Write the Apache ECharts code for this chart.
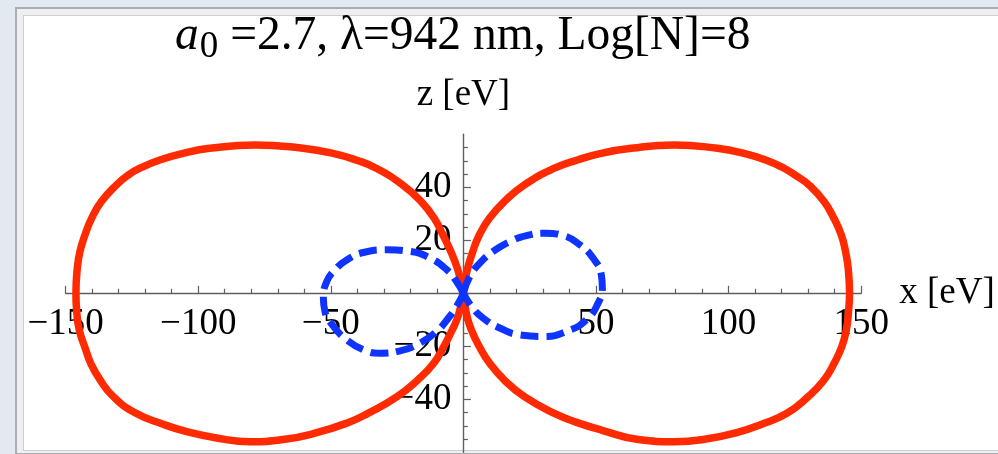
<!DOCTYPE html>
<html>
<head>
<meta charset="utf-8">
<script src="https://cdn.jsdelivr.net/npm/echarts@6/dist/echarts.min.js"></script>
<style>
  html, body { margin: 0; padding: 0; }
  body { width: 998px; height: 454px; overflow: hidden; position: relative;
         background: #e3e9f1; }
  #frame { position: absolute; left: 15px; top: 7px; width: 1000px; height: 444px;
           border: 2px solid #a9aeb4; background: #efefef; }
  #panel { position: absolute; left: 23px; top: 15px; width: 1000px; height: 434px;
           border: 1px solid #cfcfcf; background: #ffffff; }
  #chart { position: absolute; left: 0; top: 0; width: 998px; height: 454px; }
</style>
</head>
<body>
<div id="frame"></div>
<div id="panel"></div>
<div id="chart"></div>
<script>
// Emission pattern in the x–z plane (energies in eV).
// Solid red: outer figure-eight; dashed blue: inner tilted figure-eight.
const redUpperLeft = [
  [0, 0], [-1, 4.5], [-2.3, 9.5], [-4.7, 15.7], [-7.7, 22], [-11, 28.3],
  [-15.9, 34.6], [-22.9, 40.9], [-32.9, 47.2], [-40.2, 50.2], [-49.2, 52.8],
  [-60.5, 54.7], [-78.5, 56], [-95.7, 54.7], [-105.7, 52.8], [-114.5, 50.3],
  [-122, 47.2], [-126.4, 44.6], [-130.8, 40.9], [-136.5, 34.6], [-140.2, 28.3],
  [-142.7, 22], [-144.6, 15.7], [-145.6, 9.4], [-146.1, 0]
];
const redLowerLeft = [
  [-145.8, -7], [-144.8, -14], [-142.5, -21], [-140.5, -26.5], [-137, -32.7],
  [-132, -39], [-124, -45], [-113, -49.5], [-104, -52.3], [-92, -54.8],
  [-80.5, -56], [-68, -55.2], [-56, -52.8], [-44, -49], [-36, -45.3],
  [-25, -39], [-17.2, -32.7], [-11.2, -26.4], [-7.4, -20.1], [-4.2, -13.8],
  [-1.8, -8], [0, 0]
];
const redUpperRight = [
  [0, 0], [0.6, 4.4], [1.6, 9.4], [3.5, 15.7], [6, 22], [9.8, 28.3],
  [15.4, 34.6], [23, 40.9], [34.3, 47.2], [43, 50.3], [51.9, 52.8],
  [63.2, 54.7], [79.5, 56], [95.8, 54.7], [105.8, 52.8], [114, 50.3],
  [120.9, 47.2], [126, 44], [130.3, 40.9], [136, 34.6], [139.7, 28.3],
  [142.5, 22], [144.1, 15.7], [145.1, 9.4], [145.6, 0]
];
const redLowerRight = [
  [145.2, -7], [144.4, -13.8], [142.7, -20.1], [139.8, -26.4], [136, -32.7],
  [130, -39], [122, -45.3], [112, -49.6], [104, -52.3], [92, -54.9],
  [79.5, -56], [66, -55.2], [52, -51.6], [43, -48.8], [34.3, -45.3],
  [23, -39], [15.4, -32.7], [9.9, -26.4], [6, -20.1], [3, -13.8],
  [1.2, -8], [0, 0]
];
const blueLeft = [
  [0, 0], [-2.6, 4.5], [-6.3, 8.9], [-12.6, 13.3], [-20.2, 15.8], [-28.9, 16.4],
  [-37.7, 15.4], [-44, 12.6], [-48.4, 8.9], [-51.5, 4.5], [-52.8, -1.8],
  [-52.2, -6.9], [-49, -12.5], [-44, -17.5], [-37.7, -21.3], [-31.4, -22.6],
  [-23.9, -21.7], [-16.4, -18.8], [-10.1, -14.4], [-5.7, -9.4], [-2.6, -5], [0, 0]
];
const blueRight = [
  [0, 0], [2.4, 6.3], [6.2, 11.4], [11.2, 15.8], [17.5, 19.5], [23.8, 21.8],
  [30.7, 22.7], [37.6, 21.8], [43.9, 18.3], [48.9, 13.3], [52, 7], [52.4, 2],
  [50.8, -3.7], [46.4, -10], [38.9, -14.4], [30.1, -16.3], [21.3, -15.7],
  [13.7, -13.1], [7.5, -9.4], [3.1, -5], [0, 0]
];

const xRange = [-150, 150];
const zRange = [-60, 60];
const zMajorTicks = [-40, -20, 0, 20, 40];
const zTickLabels = [-40, -20, 20, 40];

const FONT = '"Liberation Serif", "Times New Roman", serif';
const RED = '#ff2a00';
const BLUE = '#1034ff';
const AXIS = '#5f5f5f';

// plot box; both ranges are symmetric, so the axes cross at its centre
const GRID = { left: 65.6, top: 134.3, width: 795.6, height: 318 };

function signed(v) {
  if (v === 0) return '';
  return v < 0 ? '\u2212' + Math.abs(v) : String(v);
}

const chart = echarts.init(document.getElementById('chart'), null, { renderer: 'canvas' });

chart.setOption({
  animation: false,
  backgroundColor: 'transparent',
  title: {
    text: '{i|a}{s|0}{n| =2.7, \u03bb=942 nm, Log[N]=8}',
    left: 175,
    top: 7,
    padding: 0,
    textStyle: {
      fontFamily: FONT, fontSize: 47.5, color: '#000', fontWeight: 'normal', lineHeight: 60,
      rich: {
        i: { fontFamily: FONT, fontSize: 47.5, fontStyle: 'italic', color: '#000', lineHeight: 60 },
        s: { fontFamily: FONT, fontSize: 37, color: '#000', lineHeight: 37, padding: [20, 0, 0, 1] },
        n: { fontFamily: FONT, fontSize: 47.5, color: '#000', lineHeight: 60 }
      }
    }
  },
  grid: Object.assign({ containLabel: false, outerBoundsMode: 'none' }, GRID),
  xAxis: {
    type: 'value',
    min: xRange[0], max: xRange[1], interval: 50,
    position: 'bottom',
    offset: -GRID.height / 2,
    name: 'x [eV]', nameLocation: 'end', nameGap: 38,
    nameTextStyle: { fontFamily: FONT, fontSize: 37, color: '#000', padding: [8, 0, 0, 0] },
    axisLine: { show: true, onZero: false, lineStyle: { color: AXIS, width: 1.4 } },
    axisTick: { show: true, inside: true, length: 7.5, lineStyle: { color: AXIS, width: 1.2 } },
    minorTick: { show: true, splitNumber: 5, length: 4.5, lineStyle: { color: AXIS, width: 1.2 } },
    axisLabel: { fontFamily: FONT, fontSize: 37, color: '#000', margin: 12, formatter: signed },
    splitLine: { show: false }
  },
  yAxis: {
    type: 'value',
    min: zRange[0], max: zRange[1], interval: 20,
    position: 'left',
    offset: -GRID.width / 2,
    name: 'z [eV]', nameLocation: 'end', nameGap: 21,
    nameTextStyle: { fontFamily: FONT, fontSize: 37, color: '#000', align: 'center' },
    axisLine: { show: true, onZero: false, lineStyle: { color: AXIS, width: 1.4 } },
    axisTick: { show: true, inside: true, length: 7.5, customValues: zMajorTicks,
                lineStyle: { color: AXIS, width: 1.2 } },
    minorTick: { show: true, splitNumber: 4, length: 4.5, lineStyle: { color: AXIS, width: 1.2 } },
    axisLabel: { fontFamily: FONT, fontSize: 37, color: '#000', margin: 12,
                 customValues: zTickLabels, formatter: signed },
    splitLine: { show: false }
  },
  series: [
    {
      type: 'line', data: redUpperLeft.concat(redLowerLeft), smooth: 0.5,
      showSymbol: false, symbol: 'none', clip: false,
      lineStyle: { color: RED, width: 7.5, cap: 'round', join: 'round' }, z: 3
    },
    {
      type: 'line', data: redUpperRight.concat(redLowerRight), smooth: 0.5,
      showSymbol: false, symbol: 'none', clip: false,
      lineStyle: { color: RED, width: 7.5, cap: 'round', join: 'round' }, z: 3
    },
    {
      type: 'line', data: blueLeft, smooth: 0.5,
      showSymbol: false, symbol: 'none', clip: false,
      lineStyle: { color: BLUE, width: 7, type: [18, 8] }, z: 4
    },
    {
      type: 'line', data: blueRight, smooth: 0.5,
      showSymbol: false, symbol: 'none', clip: false,
      lineStyle: { color: BLUE, width: 7, type: [18, 8] }, z: 4
    }
  ]
});
</script>
</body>
</html>
